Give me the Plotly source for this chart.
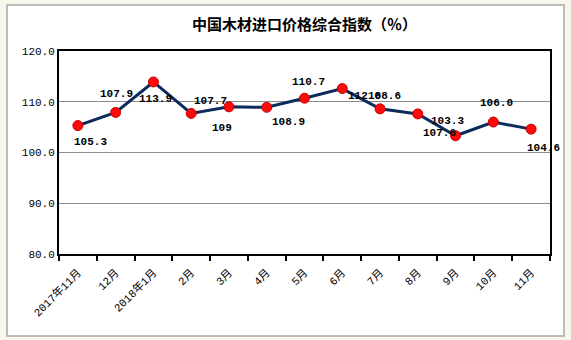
import plotly.graph_objects as go

# Monthly composite import price index for timber in China
months = ["2017年11月", "12月", "2018年1月", "2月", "3月", "4月", "5月",
          "6月", "7月", "8月", "9月", "10月", "11月"]
values = [105.3, 107.9, 113.9, 107.7, 109.0, 108.9, 110.7,
          112.6, 108.6, 107.6, 103.3, 106.0, 104.6]
labels = ["105.3", "107.9", "113.9", "107.7", "109", "108.9", "110.7",
          "112.6", "108.6", "107.6", "103.3", "106.0", "104.6"]

y_ticks = [80, 90, 100, 110, 120]

# pixel offsets of each value label relative to its marker
label_dx = [13, 1, 2, 19, -7, 22, 4, 22, 4, 22, -8, 3, 12]
label_dy = [-16, 18, -17, 12, -21, -15, 16, -7, 13, -19, 15, 19, -19]

W, H = 571, 340
L, R, T, B = 59, 21, 51, 86
pw, ph = W - L - R, H - T - B

mono = "Liberation Mono, Noto Sans CJK SC, monospace"

fig = go.Figure()
fig.add_trace(go.Scatter(
    x=months, y=values, mode="lines+markers",
    line=dict(color="#0d2a5c", width=3),
    marker=dict(color="#ff0a0a", size=10, line=dict(color="#c80000", width=1)),
    hoverinfo="x+y", showlegend=False,
))

for m, v, t, dx, dy in zip(months, values, labels, label_dx, label_dy):
    fig.add_annotation(x=m, y=v, xref="x", yref="y", text=f"<b>{t}</b>",
                       showarrow=False, xshift=dx, yshift=dy,
                       font=dict(family=mono, size=11, color="black"))

# white chart frame on the tinted page
def px_x(p):
    return (p - L) / pw

def px_y(p):
    return (H - B - p) / ph

fig.add_shape(type="rect", xref="paper", yref="paper",
              x0=px_x(7), x1=px_x(564), y0=px_y(336), y1=px_y(5),
              fillcolor="white", line=dict(color="#a8a8a8", width=1.5),
              layer="below")

fig.update_layout(
    width=W, height=H,
    margin=dict(l=L, r=R, t=T, b=B),
    paper_bgcolor="#f8f7ec",
    plot_bgcolor="white",
    title=dict(text="<b>中国木材进口价格综合指数（％）</b>",
               x=0.5, xref="paper", y=1 - 25 / H, yanchor="middle",
               font=dict(family="Noto Sans CJK SC", size=15, color="black")),
    xaxis=dict(
        type="category", range=[-0.5, len(months) - 0.5],
        tickson="boundaries", ticks="outside", ticklen=5, tickcolor="black",
        tickwidth=1.5, tickangle=-45, ticklabelstandoff=6,
        showline=True, linecolor="black", linewidth=2, mirror=True,
        showgrid=False, tickfont=dict(family=mono, size=11, color="black"),
    ),
    yaxis=dict(
        range=[80, 120], tickvals=y_ticks, tickformat=".1f",
        showgrid=True, gridcolor="#8c8c8c", gridwidth=1,
        showline=True, linecolor="black", linewidth=2, mirror=True,
        ticks="", zeroline=False,
        tickfont=dict(family=mono, size=11, color="black"),
    ),
)

fig.write_html("out.html")
